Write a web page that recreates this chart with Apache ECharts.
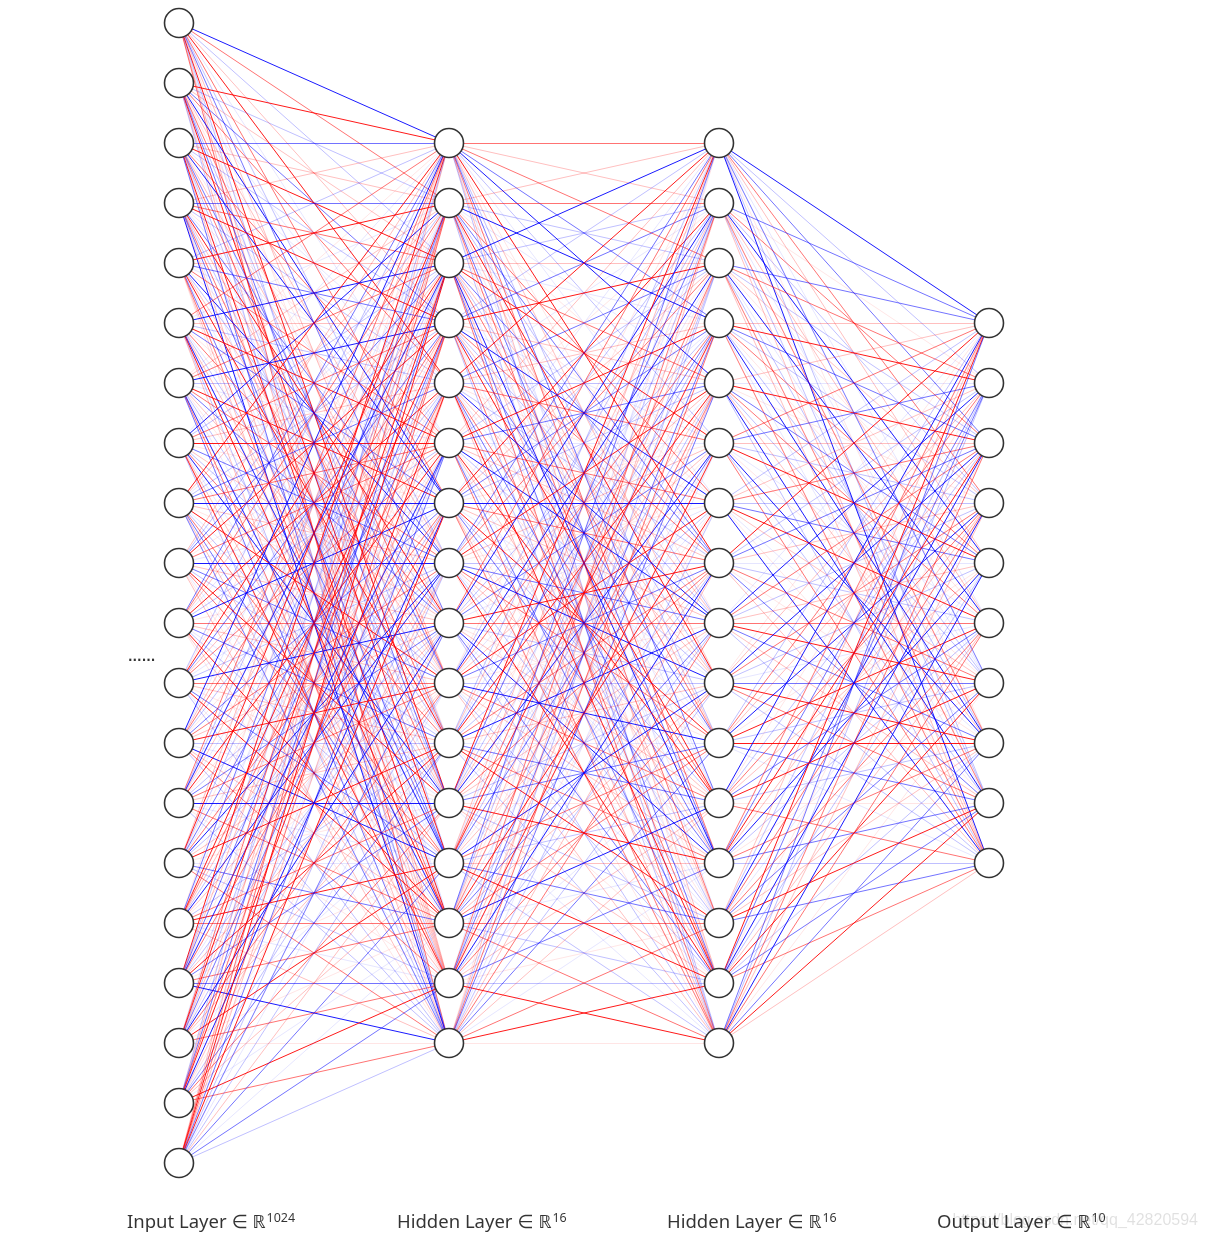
<!DOCTYPE html>
<html>
<head>
<meta charset="utf-8">
<script src="https://cdn.jsdelivr.net/npm/echarts@6/dist/echarts.min.js"></script>
<style>
html,body{margin:0;padding:0;background:#fff;}
#chart{width:1207px;height:1242px;}
</style>
</head>
<body>
<div id="chart"></div>
<script>
// ---- data ----
const layerSizes = [20, 16, 16, 10];
const layerNames = ['Input Layer', 'Hidden Layer', 'Hidden Layer', 'Output Layer'];
const layerDims = ['1024', '16', '16', '10'];
const watermark = 'https://blog.csdn.net/qq_42820594';

// weight codes: R r p q = positive (strong..faint), B b l m = negative (strong..faint)
const weightCode = { R: 0.9, r: 0.55, p: 0.25, q: 0.1, B: -0.9, b: -0.55, l: -0.25, m: -0.1 };

// input (20) -> hidden1 (16), one string per input node
const W1 = [
  "BrlpRmrlbpqRlmpr",
  "RlpbrmBpqrlbRmpl",
  "bpRlmrBqpbrlmRpb",
  "pbrRlqmbRplrbmpB",
  "lRpbmrqBlpRmbrpq",
  "rmBplRbqrmlpBRlp",
  "qprBlmRrbpqlmBrb",
  "mBlrpRqbplrBmpRl",
  "RpmlbrBpqRmlrbpb",
  "plbRqrmBpblRrmqp",
  "brpmRlBqrpbmlRpq",
  "lqRbprmlBrpqbRml",
  "BmprlqbrpRlmBprl",
  "rlBpmRqlbrpBmrql",
  "pRlqbmrBlpRqmblr",
  "qbmRrplBpqlrRrmp",
  "RlpbqBrmlpRbqrbB",
  "mrRlpbqlBrpmRqrq",
  "lpbrRmBpqlbrpmRr",
  "prRrpbRlbmlpbmbl"
];
// hidden1 (16) -> hidden2 (16)
const W2 = [
  "rprbBlmRqplbrmpl",
  "prlBmqrblRpmbrql",
  "BlpmrRqbplrmBpbr",
  "lbRqpmBrlpbRmqrl",
  "RmbplrqlBpmrblRp",
  "pqlRbmrpBlqRpmbr",
  "mRpblqBrpmRlbqpr",
  "blrmRpqlbBrpmlRq",
  "rBqlpbmRrlqpBmbl",
  "qlBrmpRbqlBrpmlp",
  "lpmbRqlrBpmbrRql",
  "RbqlpBmrplbqRlpm",
  "pmrRlbqpmBrlpbRl",
  "blpqrmRlbprBmrlr",
  "mrlbpRqBlrmpbqlR",
  "qplrbmlprlbpmrRq"
];
// hidden2 (16) -> output (10)
const W3 = [
  "BlbrpmbqlB",
  "bqrlBpmrlp",
  "brlpqBmlrp",
  "pRblrqlBmr",
  "pmRqbrlpBl",
  "rbplRmqBlr",
  "lprlbRpmqB",
  "Rlbpmlrqbp",
  "mBrlprRbpl",
  "qpBrlmbRrl",
  "lrpBqRlRbm",
  "BqlrpbRlqr",
  "rbRpBlqrbl",
  "plBrmrbpRb",
  "RbqBlpRlbr",
  "blrpBrqbRp"
];
const weights = [W1, W2, W3];

// ---- build ----
const maxNodes = Math.max(...layerSizes);
function yIndex(layer, k) { return (maxNodes - layerSizes[layer]) / 2 + k; }

const edgeData = [];
weights.forEach((W, l) => {
  W.forEach((row, i) => {
    for (let j = 0; j < row.length; j++) {
      const w = weightCode[row[j]];
      edgeData.push({
        coords: [[l, yIndex(l, i)], [l + 1, yIndex(l + 1, j)]],
        lineStyle: { color: w > 0 ? '#ff0000' : '#0000ff', opacity: Math.abs(w) }
      });
    }
  });
});

const nodeData = [];
layerSizes.forEach((n, l) => {
  for (let k = 0; k < n; k++) nodeData.push([l, yIndex(l, k)]);
});

const labelData = layerNames.map((name, l) => ({
  value: [l, maxNodes],
  label: { formatter: '{m|' + name + ' \u2208 \u211D}{s|' + layerDims[l] + '}' }
}));
labelData.push({
  value: [0, (maxNodes - 1) / 2 + 1],
  label: { formatter: '{d|......}', offset: [-51, 5] }
});

const chart = echarts.init(document.getElementById('chart'), null, { renderer: 'canvas' });
chart.setOption({
  animation: false,
  backgroundColor: '#ffffff',
  grid: { left: 179, right: 218, top: 23, bottom: 19 },
  xAxis: { type: 'value', min: 0, max: 3, show: false },
  yAxis: { type: 'value', min: 0, max: 20, inverse: true, show: false },
  graphic: [{
    type: 'text', right: 9, top: 1213, silent: true, z: 10,
    style: { text: watermark, fill: 'rgba(0,0,0,0.12)', font: '16px "Liberation Sans", Arial, sans-serif' }
  }],
  series: [
    {
      type: 'lines', coordinateSystem: 'cartesian2d', silent: true, z: 1,
      lineStyle: { width: 1 },
      data: edgeData
    },
    {
      type: 'scatter', z: 5, silent: true,
      symbol: 'circle', symbolSize: 29,
      itemStyle: { color: '#ffffff', borderColor: '#333333', borderWidth: 1.6, opacity: 1 },
      data: nodeData
    },
    {
      type: 'scatter', z: 6, silent: true, symbolSize: 2,
      itemStyle: { color: 'rgba(0,0,0,0)' },
      label: {
        show: true, position: 'inside', align: 'left', verticalAlign: 'middle',
        offset: [-52, 0], color: '#000',
        rich: {
          m: { fontFamily: '"Noto Sans", "DejaVu Sans", sans-serif', fontSize: 18.5, color: '#000', lineHeight: 26 },
          s: { fontFamily: '"Noto Sans", "DejaVu Sans", sans-serif', fontSize: 12.5, color: '#000', padding: [0, 0, 10, 1] },
          d: { fontFamily: '"DejaVu Sans", sans-serif', fontSize: 12, color: '#000', fontWeight: 'bold' }
        }
      },
      data: labelData
    }
  ]
});
</script>
</body>
</html>
